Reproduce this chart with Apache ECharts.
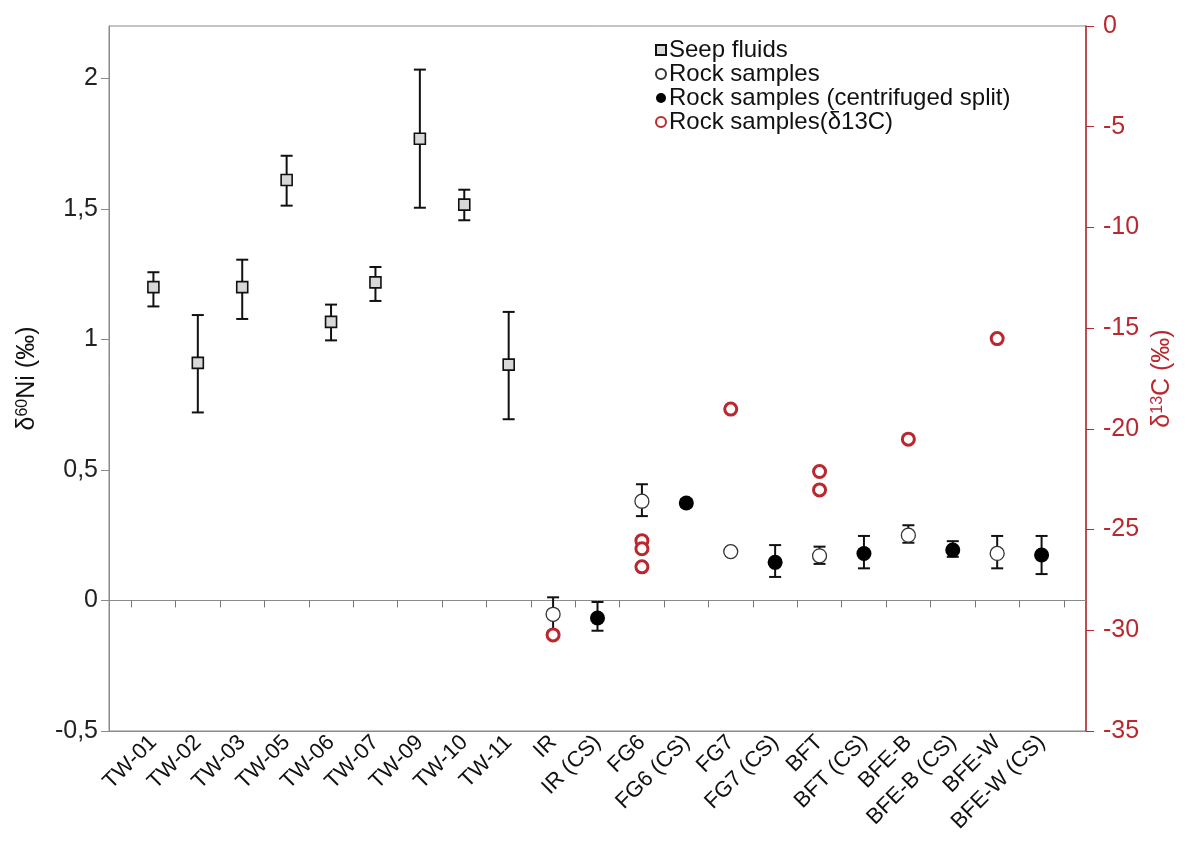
<!DOCTYPE html>
<html>
<head>
    <meta charset="utf-8"/>
    <script src="https://cdn.jsdelivr.net/npm/echarts@6/dist/echarts.min.js"></script>
</head>
<body style="margin:0;background:#fff;">
<div id="main" style="width:1202px;height:851px;"></div>
<script type="text/javascript">
    // categories on the x axis (blank slots at both ends)
    var categories = ['TW-01', 'TW-02', 'TW-03', 'TW-05', 'TW-06', 'TW-07', 'TW-09', 'TW-10', 'TW-11',
        'IR', 'IR (CS)', 'FG6', 'FG6 (CS)', 'FG7', 'FG7 (CS)', 'BFT', 'BFT (CS)',
        'BFE-B', 'BFE-B (CS)', 'BFE-W', 'BFE-W (CS)'];
    var xLabels = [''].concat(categories, [' ']);

    // seep fluids, d60Ni with error bars
    var seepNames = ['TW-01', 'TW-02', 'TW-03', 'TW-05', 'TW-06', 'TW-07', 'TW-09', 'TW-10', 'TW-11'];
    var seepValues = [1.20, 0.91, 1.20, 1.61, 1.067, 1.218, 1.768, 1.516, 0.903];
    var seepLow = [1.126, 0.72, 1.078, 1.512, 0.996, 1.147, 1.504, 1.456, 0.694];
    var seepHigh = [1.257, 1.093, 1.305, 1.703, 1.133, 1.277, 2.033, 1.573, 1.105];

    // rock samples (open)
    var rockNames = ['IR', 'FG6', 'FG7', 'BFT', 'BFE-B', 'BFE-W'];
    var rockValues = [-0.053, 0.38, 0.187, 0.171, 0.25, 0.18];
    var rockLow = [-0.118, 0.323, 0.187, 0.14, 0.221, 0.123];
    var rockHigh = [0.012, 0.445, 0.187, 0.206, 0.288, 0.247];

    // rock samples, centrifuged split
    var csNames = ['IR (CS)', 'FG6 (CS)', 'FG7 (CS)', 'BFT (CS)', 'BFE-B (CS)', 'BFE-W (CS)'];
    var csValues = [-0.067, 0.373, 0.146, 0.18, 0.193, 0.174];
    var csLow = [-0.116, 0.358, 0.09, 0.123, 0.167, 0.101];
    var csHigh = [-0.006, 0.388, 0.212, 0.247, 0.227, 0.247];

    // rock samples d13C (right axis)
    var c13Names = ['IR', 'FG6', 'FG6', 'FG6', 'FG7', 'BFT', 'BFT', 'BFE-B', 'BFE-W'];
    var c13Values = [-30.23, -25.55, -25.95, -26.85, -19.02, -22.12, -23.03, -20.51, -15.52];

    var leftTicks = { min: -0.5, max: 2.2, interval: 0.5 };
    var rightTicks = { min: -35, max: 0, interval: 5 };

    var red = '#b8282e';
    var axisGray = '#8a8a8a';

    function idx(name) { return xLabels.indexOf(name); }
    function points(names, vals) {
        return names.map(function (n, i) { return [idx(n), vals[i]]; });
    }
    function bars(names, lo, hi) {
        var out = [];
        names.forEach(function (n, i) {
            if (hi[i] - lo[i] > 0.001) out.push([idx(n), lo[i], hi[i]]);
        });
        return out;
    }

    function renderErrorBar(params, api) {
        var x = api.value(0);
        var lo = api.coord([x, api.value(1)]);
        var hi = api.coord([x, api.value(2)]);
        var w = 6;
        var st = { stroke: '#111', lineWidth: 2 };
        return {
            type: 'group',
            children: [
                { type: 'line', shape: { x1: lo[0], y1: lo[1], x2: hi[0], y2: hi[1] }, style: st },
                { type: 'line', shape: { x1: lo[0] - w, y1: lo[1], x2: lo[0] + w, y2: lo[1] }, style: st },
                { type: 'line', shape: { x1: hi[0] - w, y1: hi[1], x2: hi[0] + w, y2: hi[1] }, style: st }
            ]
        };
    }

    var chart = echarts.init(document.getElementById('main'));

    var option = {
        animation: false,
        textStyle: { fontFamily: 'Liberation Sans, Arial, sans-serif' },
        grid: {
            left: 109, right: 116, top: 26, bottom: 120,
            show: true, borderColor: axisGray, borderWidth: 1
        },
        legend: {
            orient: 'vertical',
            left: 650,
            top: 33,
            itemWidth: 10,
            itemHeight: 10,
            itemGap: 0,
            data: ['Seep fluids', 'Rock samples', 'Rock samples (centrifuged split)', 'Rock samples(δ13C)'],
            textStyle: { fontSize: 24, lineHeight: 24, color: '#111', padding: [0, 0, 0, -2] }
        },
        xAxis: [
            {
                type: 'category',
                data: xLabels,
                boundaryGap: false,
                axisLine: { onZero: false, lineStyle: { color: axisGray } },
                axisTick: { show: false },
                axisLabel: { rotate: 45, fontSize: 22, color: '#111', interval: 0, margin: 8 },
                splitLine: { show: false }
            },
            {
                // zero line with ticks between categories
                type: 'category',
                position: 'bottom',
                data: categories.concat(['']),
                boundaryGap: true,
                axisLine: { show: true, onZero: true, onZeroAxisIndex: 0, lineStyle: { color: axisGray } },
                axisTick: { show: true, alignWithLabel: true, interval: 0, length: 7, lineStyle: { color: '#777' } },
                axisLabel: { show: true, color: 'rgba(0,0,0,0)', interval: 0, fontSize: 1 },
                splitLine: { show: false }
            }
        ],
        yAxis: [
            {
                type: 'value',
                min: leftTicks.min, max: leftTicks.max, interval: leftTicks.interval,
                name: '{d|δ}{s|60}{d|Ni (‰)}',
                nameLocation: 'middle',
                nameRotate: 90,
                nameGap: 69,
                nameTextStyle: {
                    color: '#111',
                    rich: {
                        d: { fontSize: 25, color: '#111' },
                        s: { fontSize: 16, color: '#111', padding: [0, 0, 9, 0] }
                    }
                },
                axisLine: { show: true, lineStyle: { color: axisGray } },
                axisTick: { show: true, length: 8, lineStyle: { color: axisGray } },
                axisLabel: {
                    fontSize: 25, color: '#222', margin: 11, showMaxLabel: false,
                    formatter: function (v) { return String(v).replace('.', ','); }
                },
                splitLine: { show: false }
            },
            {
                type: 'value',
                position: 'right',
                min: rightTicks.min, max: rightTicks.max, interval: rightTicks.interval,
                name: '{d|δ}{s|13}{d|C (‰)}',
                nameLocation: 'middle',
                nameRotate: 90,
                nameGap: 64,
                nameTextStyle: {
                    color: red,
                    rich: {
                        d: { fontSize: 25, color: red },
                        s: { fontSize: 16, color: red, padding: [0, 0, 9, 0] }
                    }
                },
                axisLine: { show: true, lineStyle: { color: red, width: 1.5 } },
                axisTick: { show: true, length: 8, lineStyle: { color: red } },
                axisLabel: { fontSize: 25, color: red, margin: 17 },
                splitLine: { show: false }
            }
        ],
        series: [
            {
                type: 'custom', name: 'seepErr', renderItem: renderErrorBar,
                data: bars(seepNames, seepLow, seepHigh), encode: { x: 0, y: [1, 2] }, z: 2
            },
            {
                type: 'custom', name: 'rockErr', renderItem: renderErrorBar,
                data: bars(rockNames, rockLow, rockHigh), encode: { x: 0, y: [1, 2] }, z: 2
            },
            {
                type: 'custom', name: 'csErr', renderItem: renderErrorBar,
                data: bars(csNames, csLow, csHigh), encode: { x: 0, y: [1, 2] }, z: 2
            },
            {
                name: 'Seep fluids',
                type: 'scatter',
                symbol: 'rect',
                symbolSize: 11,
                itemStyle: { color: '#d8d8d8', borderColor: '#111', borderWidth: 1.6, opacity: 1 },
                data: points(seepNames, seepValues),
                z: 3
            },
            {
                name: 'Rock samples',
                type: 'scatter',
                symbol: 'circle',
                symbolSize: 14,
                itemStyle: { color: '#fff', borderColor: '#333', borderWidth: 1.3, opacity: 1 },
                data: points(rockNames, rockValues),
                z: 3
            },
            {
                name: 'Rock samples (centrifuged split)',
                type: 'scatter',
                symbol: 'circle',
                symbolSize: 15,
                itemStyle: { color: '#000', opacity: 1 },
                data: points(csNames, csValues),
                z: 3
            },
            {
                name: 'Rock samples(δ13C)',
                type: 'scatter',
                yAxisIndex: 1,
                symbol: 'circle',
                symbolSize: 12,
                itemStyle: { color: '#fff', borderColor: red, borderWidth: 3, opacity: 1 },
                data: points(c13Names, c13Values),
                z: 4
            }
        ]
    };

    chart.setOption(option);
</script>
</body>
</html>
